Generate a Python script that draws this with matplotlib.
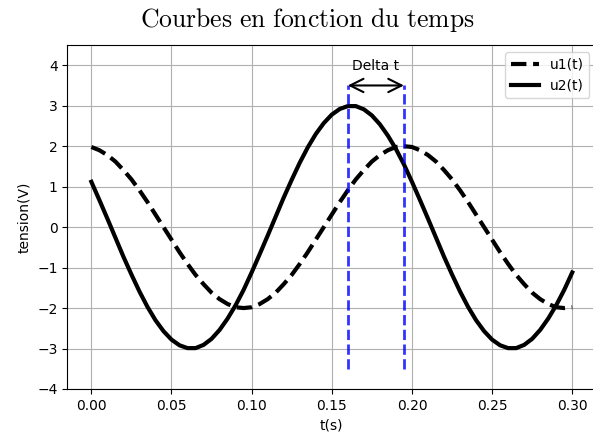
import numpy as np
import matplotlib
matplotlib.use("Agg")
import matplotlib.pyplot as plt

# Courbes u1(t) et u2(t) (pas de 5 ms)
t = [0.000, 0.005, 0.010, 0.015, 0.020, 0.025, 0.030, 0.035, 0.040, 0.045,
     0.050, 0.055, 0.060, 0.065, 0.070, 0.075, 0.080, 0.085, 0.090, 0.095,
     0.100, 0.105, 0.110, 0.115, 0.120, 0.125, 0.130, 0.135, 0.140, 0.145,
     0.150, 0.155, 0.160, 0.165, 0.170, 0.175, 0.180, 0.185, 0.190, 0.195,
     0.200, 0.205, 0.210, 0.215, 0.220, 0.225, 0.230, 0.235, 0.240, 0.245,
     0.250, 0.255, 0.260, 0.265, 0.270, 0.275, 0.280, 0.285, 0.290, 0.295,
     0.300]

u1 = [1.98, 1.90, 1.78, 1.62, 1.41, 1.18, 0.91, 0.62, 0.31, 0.00,
      -0.31, -0.62, -0.91, -1.18, -1.41, -1.62, -1.78, -1.90, -1.98, -2.00,
      -1.98, -1.90, -1.78, -1.62, -1.41, -1.18, -0.91, -0.62, -0.31, 0.00,
      0.31, 0.62, 0.91, 1.18, 1.41, 1.62, 1.78, 1.90, 1.98, 2.00,
      1.98, 1.90, 1.78, 1.62, 1.41, 1.18, 0.91, 0.62, 0.31, 0.00,
      -0.31, -0.62, -0.91, -1.18, -1.41, -1.62, -1.78, -1.90, -1.98, -2.00,
      -1.98]

u2 = [1.12, 0.67, 0.21, -0.26, -0.73, -1.17, -1.59, -1.97, -2.30, -2.57,
      -2.78, -2.92, -2.99, -2.99, -2.91, -2.76, -2.54, -2.26, -1.93, -1.55,
      -1.12, -0.67, -0.21, 0.26, 0.73, 1.17, 1.59, 1.97, 2.30, 2.57,
      2.78, 2.92, 2.99, 2.99, 2.91, 2.76, 2.54, 2.26, 1.93, 1.55,
      1.12, 0.67, 0.21, -0.26, -0.73, -1.17, -1.59, -1.97, -2.30, -2.57,
      -2.78, -2.92, -2.99, -2.99, -2.91, -2.76, -2.54, -2.26, -1.93, -1.55,
      -1.12]

# instants des maxima (decalage temporel)
t_u2_max = 0.16
t_u1_max = 0.195

plt.rcParams['mathtext.fontset'] = 'cm'

fig = plt.figure(figsize=(5.93, 4.41), dpi=100)
# le cadre de droite sort de l'image, comme sur l'original
ax = fig.add_axes([67.3 / 593, 52 / 441, 529 / 593, 344 / 441])

ax.plot(t, u1, 'k--', lw=3, label='u1(t)')
ax.plot(t, u2, 'k-', lw=3, label='u2(t)')

ax.vlines([t_u2_max, t_u1_max], -3.5, 3.5, colors='blue', linestyles='--', lw=2, alpha=0.8)
ax.annotate('', xy=(t_u2_max, 3.5), xytext=(t_u1_max, 3.5),
            arrowprops=dict(arrowstyle='<->', lw=1.5, color='k', shrinkA=0, shrinkB=0,
                            mutation_scale=24))
ax.text((t_u2_max + t_u1_max) / 2, 3.97, 'Delta t', ha='center', va='center', fontsize=10)

ax.set_ylim(-4, 4.5)
ax.set_yticks([-4, -3, -2, -1, 0, 1, 2, 3, 4])
ax.set_xticks([0.0, 0.05, 0.10, 0.15, 0.20, 0.25, 0.30])
ax.grid(True)
ax.set_xlabel('t(s)')
ax.set_ylabel('tension(V)')
ax.legend(loc='upper right')
fig.text(307 / 593, 1 - 20 / 441, r'$\mathrm{Courbes\ en\ fonction\ du\ temps}$',
         ha='center', va='center', fontsize=18.5)

fig.savefig('out.png')
